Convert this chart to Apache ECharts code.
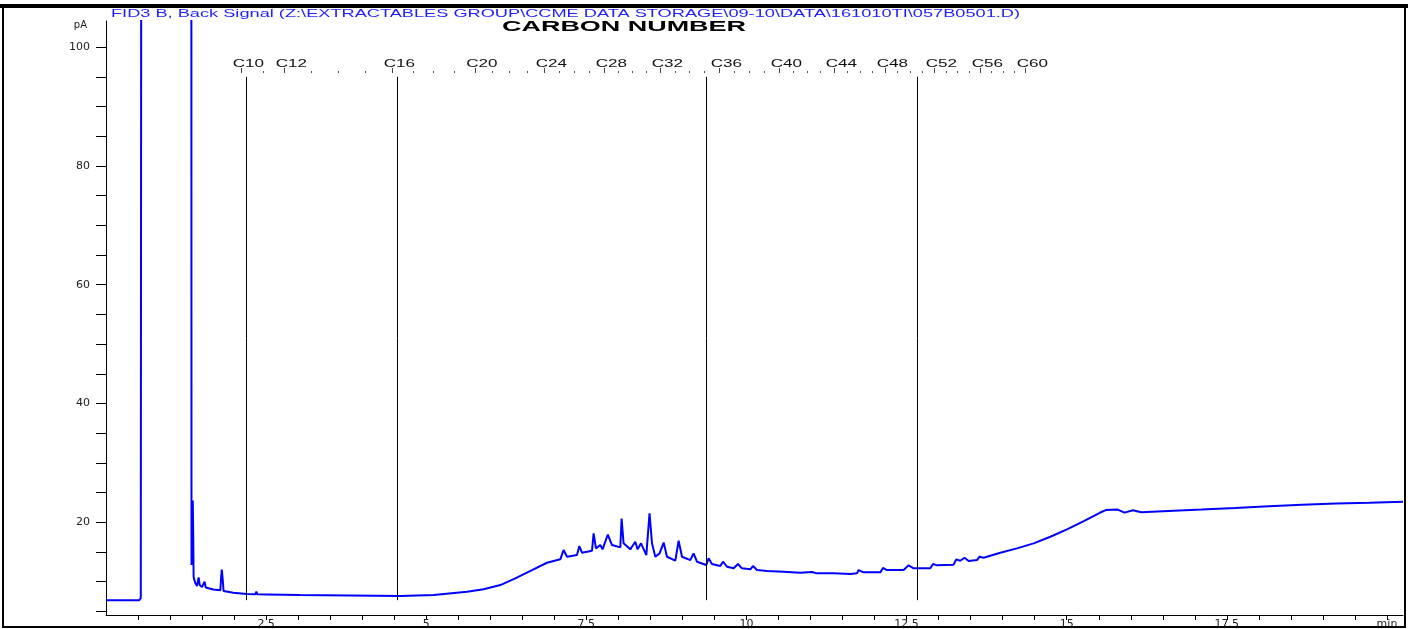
<!DOCTYPE html>
<html>
<head>
<meta charset="utf-8">
<title>FID3 B, Back Signal</title>
<script src="https://cdn.jsdelivr.net/npm/echarts@6/dist/echarts.min.js"></script>
<style>
html, body { margin: 0; padding: 0; background: #fff; }
#main { width: 1408px; height: 629px; }
</style>
</head>
<body>
<div id="main"></div>
<script>
// retention time (min)
var rtMin = [
    0, 0.52, 0.543, 0.551, 1.332, 1.335, 1.347, 1.355, 1.363, 1.368,
    1.394, 1.421, 1.446, 1.464, 1.499, 1.539, 1.558, 1.577, 1.675, 1.785,
    1.800, 1.808, 1.819, 1.836, 1.988, 2.201, 2.331, 2.347, 2.362, 2.514,
    3.034, 3.814, 4.595, 5.115, 5.636, 5.895, 6.156, 6.390, 6.651, 6.885,
    7.093, 7.144, 7.198, 7.354, 7.390, 7.432, 7.588, 7.613, 7.650, 7.717,
    7.753, 7.835, 7.900, 8.030, 8.050, 8.081, 8.186, 8.212, 8.264, 8.300, 8.353,
    8.436, 8.486, 8.525, 8.576, 8.643, 8.706, 8.759, 8.889, 8.940, 8.993,
    9.123, 9.174, 9.227, 9.372, 9.408, 9.461, 9.591, 9.633, 9.696, 9.799,
    9.867, 9.930, 10.059, 10.101, 10.164, 10.320, 10.579, 10.840, 11.023, 11.101,
    11.360, 11.620, 11.725, 11.750, 11.828, 12.089, 12.131, 12.194, 12.453, 12.531,
    12.609, 12.870, 12.912, 12.974, 13.233, 13.275, 13.338, 13.405, 13.468, 13.599,
    13.639, 13.702, 13.963, 14.223, 14.483, 14.744, 15.004, 15.266, 15.524, 15.610,
    15.796, 15.902, 16.033, 16.164, 16.582, 17.105, 17.630, 18.154, 18.678, 19.202,
    19.725, 20.250
];
// FID signal (pA)
var signalPA = [
    6.87, 6.87, 7.26, 140, 140, 12.81, 17.02, 23.67, 17.0, 10.79,
    9.78, 9.28, 10.74, 9.44, 9.11, 10.0, 9.02, 8.89, 8.69, 8.55,
    11.13, 12.05, 10.79, 8.43, 8.15, 7.93, 7.88, 8.35, 7.88, 7.85,
    7.76, 7.68, 7.59, 7.76, 8.32, 8.72, 9.44, 10.57, 11.97, 13.20,
    13.77, 15.34, 14.21, 14.49, 16.01, 14.88, 15.22, 18.15, 15.62, 16.18,
    15.45, 17.95, 16.18, 15.79, 20.64, 16.46, 15.45, 15.89, 16.73, 15.45, 16.46,
    14.49, 21.52, 16.46, 14.21, 14.78, 16.60, 14.21, 13.54, 16.90, 14.21,
    13.65, 14.78, 13.37, 12.81, 13.94, 12.98, 12.64, 13.37, 12.53, 12.26,
    12.98, 12.26, 12.09, 12.64, 11.97, 11.80, 11.68, 11.52, 11.63, 11.41,
    11.41, 11.30, 11.41, 11.97, 11.58, 11.58, 12.31, 11.97, 11.97, 12.76,
    12.26, 12.26, 12.98, 12.76, 12.86, 13.77, 13.54, 14.04, 13.48, 13.65,
    14.21, 14.04, 14.88, 15.62, 16.46, 17.58, 18.82, 20.22, 21.65, 22.07,
    22.15, 21.63, 22.04, 21.70, 21.92, 22.15, 22.42, 22.71, 22.95, 23.16,
    23.28, 23.45
];

// marker lines (min) and their extent (pA)
var markerTimes = [2.190, 4.548, 9.372, 12.666];
var markerTop = 95, markerBottom = 6.9;

// carbon number scale
var carbonNames = ['C10', 'C12', 'C16', 'C20', 'C24', 'C28', 'C32', 'C36', 'C40', 'C44', 'C48', 'C52', 'C56', 'C60'];
var carbonTimes = [2.112, 2.784, 4.470, 5.758, 6.843, 7.780, 8.654, 9.575, 10.512, 11.371, 12.167, 12.932, 13.650, 14.353];
var carbonMinorTimes = [
    2.448, 3.205, 3.627, 4.048, 4.792, 5.114, 5.436, 6.029, 6.300, 6.572,
    7.077, 7.311, 7.546, 7.999, 8.217, 8.436, 8.884, 9.114, 9.345, 9.809,
    10.044, 10.278, 10.727, 10.941, 11.156, 11.570, 11.769, 11.968, 12.358, 12.550,
    12.741, 13.112, 13.291, 13.471, 13.826, 14.002, 14.177
];

// axis ticks / labels
var timeTicks = [0.5, 1, 1.5, 2, 2.5, 3, 3.5, 4, 4.5, 5, 5.5, 6, 6.5, 7, 7.5, 8, 8.5, 9, 9.5, 10,
    10.5, 11, 11.5, 12, 12.5, 13, 13.5, 14, 14.5, 15, 15.5, 16, 16.5, 17, 17.5, 18, 18.5, 19, 19.5, 20];
var timeLabels = [2.5, 5, 7.5, 10, 12.5, 15, 17.5, 20];
var paTicks = [5, 10, 15, 20, 25, 30, 35, 40, 45, 50, 55, 60, 65, 70, 75, 80, 85, 90, 95, 100];
var paLabels = [20, 40, 60, 80, 100];

var headerText = 'FID3 B, Back Signal (Z:\\EXTRACTABLES GROUP\\CCME DATA STORAGE\\09-10\\DATA\\161010TI\\057B0501.D)';
var titleText = 'CARBON NUMBER';

var chart = echarts.init(document.getElementById('main'), null, {renderer: 'canvas'});

//文字宽度 (the original plot uses a wide, stretched font)
function textWidth(txt, font) {
    var ctx = document.createElement('canvas').getContext('2d');
    ctx.font = font;
    return ctx.measureText(txt).width;
}
var headerFont = '10px "Liberation Sans"';
var titleFont = 'bold 14px "Liberation Sans"';
var carbonFont = '11px "Liberation Sans"';
var headerScale = 909 / textWidth(headerText, headerFont);
var titleScale = 244 / textWidth(titleText, titleFont);
var carbonScale = 1.55;

var trace = rtMin.map(function (t, i) { return [t, signalPA[i]]; });
var carbonData = carbonTimes.map(function (t, i) { return [t, i]; });

var labelFont = {fontSize: 11, fontFamily: 'DejaVu Sans', color: '#222'};

chart.setOption({
    animation: false,
    backgroundColor: '#fff',
    grid: {left: 106, top: 21, right: 5, bottom: 14, outerBoundsMode: 'none'},
    xAxis: [
        {
            type: 'value', min: 0, max: 20.25, position: 'bottom',
            axisLine: {onZero: false, lineStyle: {color: '#000', width: 1}},
            axisTick: {length: 5, customValues: timeTicks, lineStyle: {color: '#000'}},
            axisLabel: Object.assign({
                customValues: timeLabels, margin: 4,
                formatter: function (v) { return v === 20 ? 'min' : String(v); }
            }, labelFont),
            splitLine: {show: false}
        },
        {
            // carbon number ticks (labels drawn by the custom series below)
            type: 'value', min: 0, max: 20.25, position: 'top', offset: -52,
            axisLine: {show: false},
            axisTick: {length: 5, customValues: carbonTimes, lineStyle: {color: '#444'}},
            axisLabel: {show: false},
            splitLine: {show: false}
        },
        {
            type: 'value', min: 0, max: 20.25, position: 'top', offset: -52,
            axisLine: {show: false},
            axisTick: {length: 2, customValues: carbonMinorTimes, lineStyle: {color: '#555'}},
            axisLabel: {show: false},
            splitLine: {show: false}
        }
    ],
    yAxis: {
        type: 'value', min: 4.4, max: 104.4,
        name: 'pA', nameLocation: 'end', nameGap: -4,
        nameTextStyle: {fontSize: 10, fontFamily: 'DejaVu Sans', color: '#222', align: 'right', verticalAlign: 'middle', padding: [0, 19, 0, 0]},
        axisLine: {onZero: false, lineStyle: {color: '#000', width: 1}},
        axisTick: {length: 10, customValues: paTicks, lineStyle: {color: '#000'}},
        axisLabel: Object.assign({customValues: paLabels, margin: 16}, labelFont),
        splitLine: {show: false}
    },
    series: [
        {
            name: 'FID3 B',
            type: 'line',
            data: trace,
            symbol: 'none',
            clip: true,
            lineStyle: {color: '#0000ff', width: 2},
            markLine: {
                silent: true,
                symbol: 'none',
                label: {show: false},
                lineStyle: {color: '#000', width: 1, type: 'solid'},
                data: markerTimes.map(function (t) {
                    return [{coord: [t, markerTop]}, {coord: [t, markerBottom]}];
                })
            }
        },
        {
            // carbon number labels
            name: 'carbon',
            type: 'custom',
            silent: true,
            data: carbonData,
            renderItem: function (params, api) {
                var pt = api.coord([api.value(0), 50]);
                return {
                    type: 'text',
                    x: pt[0] + 7,
                    y: params.coordSys.y + 43,
                    scaleX: carbonScale,
                    style: {
                        text: carbonNames[api.value(1)],
                        font: carbonFont,
                        fill: '#111',
                        align: 'center', verticalAlign: 'middle',
                        textAlign: 'center', textVerticalAlign: 'middle'
                    }
                };
            }
        }
    ],
    graphic: [
        {type: 'rect', shape: {x: 3, y: 7, width: 1402, height: 620}, style: {fill: 'none', stroke: '#000', lineWidth: 2}, z: 100},
        {type: 'rect', shape: {x: 0, y: 4, width: 1408, height: 4}, style: {fill: '#000'}, z: 100},
        {
            type: 'text', x: 111, y: 14, scaleX: headerScale,
            style: {text: headerText, font: headerFont, fill: '#1f1fff', verticalAlign: 'middle', textVerticalAlign: 'middle'}
        },
        {
            type: 'text', x: 502, y: 27.5, scaleX: titleScale,
            style: {text: titleText, font: titleFont, fill: '#000', verticalAlign: 'middle', textVerticalAlign: 'middle'}
        }
    ]
});

window.onresize = chart.resize;
</script>
</body>
</html>
